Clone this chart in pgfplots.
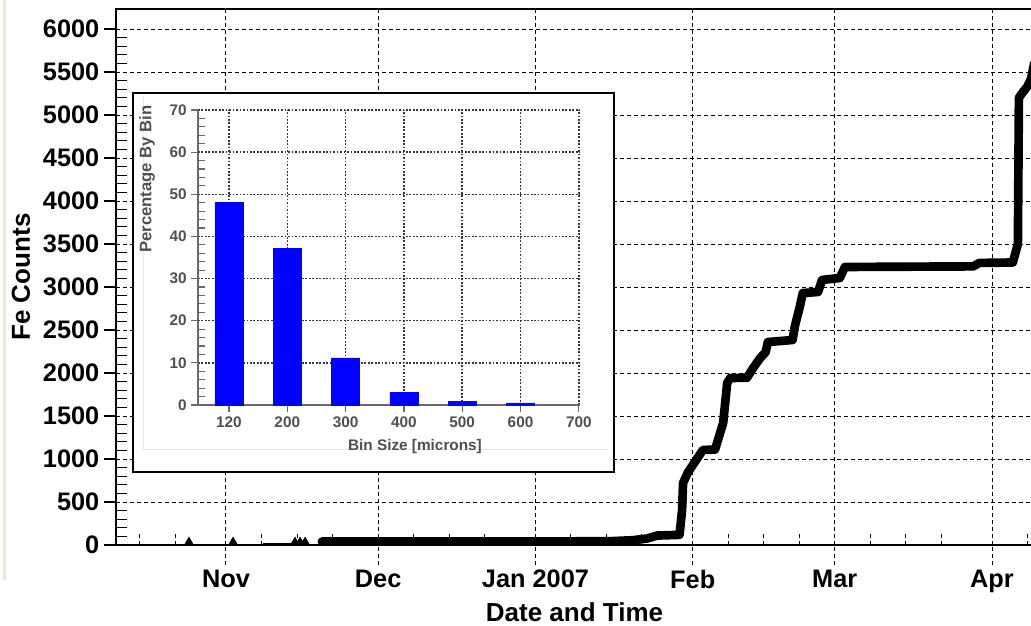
\documentclass[border=0pt]{standalone}
\usepackage{pgfplots}
\pgfplotsset{compat=1.18}
\usepackage{pgfplotstable}
\usepackage{fontspec}
\setmainfont{Liberation Sans}

\definecolor{barblue}{RGB}{0,0,255}
\definecolor{insettext}{RGB}{80,80,80}
\definecolor{insetgrid}{RGB}{55,55,55}
\definecolor{insetaxis}{RGB}{105,105,105}
\definecolor{panelgray}{RGB}{232,232,232}
\definecolor{edgebeige}{RGB}{236,232,212}

% Cumulative Fe particle counts; x = days since 1 Nov 2006
\pgfplotstableread{
day count
18.9 40
61 40
76 45
80 55
83 75
85 110
89.4 118
89.9 400
90.1 721
91.1 849
94.0 1105
96.4 1110
97.4 1302
98.0 1419
98.8 1884
99.4 1942
102.7 1945
103.9 2058
105.3 2174
106.4 2244
106.8 2360
111.7 2384
112.1 2535
113.1 2768
113.7 2930
116.7 2942
117.5 3082
121.0 3105
122.0 3233
147.3 3240
148.5 3280
155.1 3285
156.1 3500
156.3 5200
157.0 5260
157.9 5326
158.7 5420
159.3 5600
}\fecounts

% Particle size distribution
\pgfplotstableread{
idx pct
0 48.0
1 37.2
2 11.2
3 3.0
4 0.8
5 0.5
}\sizebins

\begin{document}
\begin{tikzpicture}
\useasboundingbox (0,0) rectangle (773.25pt,468.75pt);
\draw[edgebeige, line width=2pt] (3.5pt,468.75pt) -- (3.5pt,34pt);

\begin{axis}[
  at={(87pt,60pt)}, anchor=south west,
  scale only axis, width=687.75pt, height=402pt,
  xmin=-21.68, xmax=159.08, ymin=0, ymax=6233,
  axis line style={black, line width=0.9pt},
  xtick={-17,-10,7,14,21,37,44,51,68,75,82,99,106,113,127,134,141,158},
  xticklabels={},
  major tick length=9pt,
  minor tick length=8pt,
  every major x tick/.append style={dash pattern=on 3pt off 2.25pt, line width=0.75pt},
  extra x ticks={0,30,61,92,120,151},
  extra x tick labels={Nov,Dec,Jan 2007,Feb,Mar,Apr},
  extra x tick style={grid=major, xtick align=outside, major tick length=15pt},
  ytick={0,500,...,6000},
  minor y tick num=4,
  ytick align=outside,
  every minor y tick/.append style={xshift=8pt, line width=0.9pt},
  every major y tick/.append style={line width=0.9pt},
  ymajorgrids,
  grid style={black, line width=0.75pt, dash pattern=on 3pt off 2.25pt},
  tick style={black},
  xtick pos=left, ytick pos=left,
  scaled y ticks=false,
  /pgf/number format/1000 sep={},
  /pgf/number format/assume math mode=true,
  tick label style={font=\fontsize{19}{21}\selectfont\bfseries},
  xlabel={Date and Time}, ylabel={Fe Counts},
  label style={font=\fontsize{19.5}{22}\selectfont\bfseries},
  xlabel style={at={(axis description cs:0.5,-0.125)}, anchor=center},
  ylabel style={at={(axis description cs:-0.1036,0.5)}, anchor=center},
]
\addplot[black, line width=6.5pt, line join=round, line cap=round] table[x=day, y=count] {\fecounts};
\addplot[black, line width=1.5pt] coordinates {(7.3,8) (13.2,8)};
\addplot[only marks, black, mark=triangle*, mark size=4pt] coordinates {(-7.3,30) (1.4,30) (13.6,30) (14.6,30) (15.6,30)};
\end{axis}

% inset frame
\fill[white] (99.75pt,114.75pt) rectangle (460.5pt,399pt);
\draw[panelgray, line width=1pt] (107.5pt,397pt) -- (107.5pt,131.5pt) -- (455pt,131.5pt);
\draw[black, line width=1.6pt] (99.75pt,114.75pt) rectangle (460.5pt,399pt);

\begin{axis}[
  at={(148.5pt,165pt)}, anchor=south west,
  scale only axis, width=286.5pt, height=221.25pt,
  xmin=-0.531, xmax=6.02, ymin=0, ymax=70,
  axis lines=left,
  axis line style={-, insetaxis, line width=1.2pt},
  xtick={0,...,6},
  xticklabels={120,200,300,400,500,600,700},
  ytick={0,10,...,70},
  minor y tick num=4,
  tick align=outside,
  major tick length=5pt,
  minor tick length=5.5pt,
  every minor y tick/.append style={xshift=5.5pt},
  tick style={insetaxis, line width=0.9pt},
  grid=major,
  grid style={insetgrid, line width=1.1pt, dash pattern=on 1.3pt off 1.3pt},
  /pgf/number format/assume math mode=true,
  tick label style={font=\fontsize{11.5}{13}\selectfont\bfseries, text=insettext},
  xlabel={Bin Size [microns]}, ylabel={Percentage By Bin},
  label style={font=\fontsize{11.5}{13}\selectfont\bfseries, text=insettext},
  xlabel style={at={(axis description cs:0.568,-0.142)}, anchor=center},
  ylabel style={at={(axis description cs:-0.1335,0.766)}, anchor=center, font=\fontsize{12.5}{14}\selectfont\bfseries},
]
\addplot[ybar, bar width=21pt, fill=barblue, draw=barblue] table[x=idx, y=pct] {\sizebins};
\end{axis}
\end{tikzpicture}
\end{document}
